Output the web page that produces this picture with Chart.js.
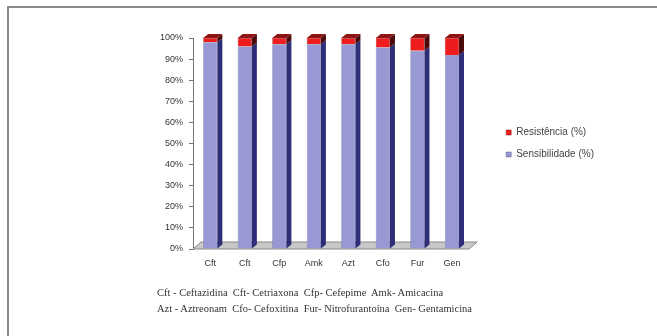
<!DOCTYPE html>
<html>
<head>
<meta charset="utf-8">
<script src="https://cdn.jsdelivr.net/npm/chart.js@4/dist/chart.umd.min.js"></script>
<style>
  body { margin: 0; background: #fff; }
  #wrap { position: relative; width: 657px; height: 336px; overflow: hidden; }
  #frame { position: absolute; left: 7px; top: 6px; right: -10px; bottom: -10px;
           border-top: 2px solid #8a8a8a; border-left: 2px solid #8a8a8a; }
  #grafico { position: absolute; left: 0; top: 0; }
  #nota { position: absolute; left: 157px; top: 285px; font: 10.5px "Liberation Serif", serif;
          color: #333; line-height: 16px; white-space: pre; }
</style>
</head>
<body>
<div id="wrap">
  <div id="frame"></div>
  <canvas id="grafico" width="657" height="336"></canvas>
  <div id="nota">Cft - Ceftazidina  Cft- Cetriaxona  Cfp- Cefepime  Amk- Amicacina
Azt - Aztreonam  Cfo- Cefoxitina  Fur- Nitrofurantoína  Gen- Gentamicina</div>
</div>
<script>
var antibioticos = ["Cft", "Cft", "Cfp", "Amk", "Azt", "Cfo", "Fur", "Gen"];
var sensibilidade = [98, 96, 97, 97, 97, 95.5, 94, 92];
var resistencia = [2, 4, 3, 3, 3, 4.5, 6, 8];
var ticksY = [0, 10, 20, 30, 40, 50, 60, 70, 80, 90, 100];

// faces laterais / topo para o efeito 3D
var lados = ['#2e2e78', '#4a0808'];
var topos = ['#6a6ab0', '#8e1515'];

var efeito3d = {
    id: 'efeito3d',
    beforeDatasetsDraw: function(chart) {
        var c = chart.ctx, a = chart.chartArea;
        c.save();
        c.fillStyle = '#c8c8c8';
        c.strokeStyle = '#8a8a8a';
        c.lineWidth = 1;
        c.beginPath();
        c.moveTo(a.left, a.bottom);
        c.lineTo(a.left + 8, a.bottom - 7);
        c.lineTo(a.right + 8, a.bottom - 7);
        c.lineTo(a.right, a.bottom);
        c.closePath();
        c.fill();
        c.stroke();
        c.restore();
    },
    afterDatasetsDraw: function(chart) {
        var c = chart.ctx, dx = 5, dy = 4;
        c.save();
        chart.data.datasets.forEach(function(ds, i) {
            var meta = chart.getDatasetMeta(i);
            meta.data.forEach(function(b) {
                var p = b.getProps(['x', 'y', 'base', 'width'], true);
                var l = p.x - p.width / 2, r = p.x + p.width / 2;
                c.fillStyle = lados[i];
                c.beginPath();
                c.moveTo(r, p.y);
                c.lineTo(r + dx, p.y - dy);
                c.lineTo(r + dx, p.base - dy);
                c.lineTo(r, p.base);
                c.closePath();
                c.fill();
                if (i === chart.data.datasets.length - 1) {
                    c.fillStyle = topos[i];
                    c.beginPath();
                    c.moveTo(l, p.y);
                    c.lineTo(l + dx, p.y - dy);
                    c.lineTo(r + dx, p.y - dy);
                    c.lineTo(r, p.y);
                    c.closePath();
                    c.fill();
                }
            });
        });
        c.restore();
    }
};

var ctx = document.getElementById("grafico");
var grafico = new Chart(ctx, {
    type: 'bar',
    data: {
        labels: antibioticos,
        datasets: [
            {
                label: "Sensibilidade (%)",
                data: sensibilidade,
                backgroundColor: '#9898d4',
                borderColor: '#55558a',
                borderWidth: 0.5,
                barPercentage: 0.41,
                categoryPercentage: 1
            },
            {
                label: "Resistência (%)",
                data: resistencia,
                backgroundColor: '#ee1c1c',
                borderColor: '#7a1010',
                borderWidth: 0.5,
                barPercentage: 0.41,
                categoryPercentage: 1
            }
        ]
    },
    options: {
        responsive: false,
        animation: false,
        devicePixelRatio: 1,
        layout: { padding: { left: 150, top: 38, right: 53, bottom: 57 } },
        plugins: {
            legend: {
                position: 'right',
                fullSize: false,
                reverse: true,
                maxWidth: 200,
                labels: {
                    boxWidth: 5,
                    boxHeight: 5,
                    padding: 12,
                    color: '#444',
                    font: { family: 'Arial, "Liberation Sans"', size: 10 }
                }
            },
            tooltip: { enabled: false }
        },
        scales: {
            x: {
                stacked: true,
                grid: { display: false, drawTicks: false },
                border: { display: false },
                ticks: { color: '#333', padding: 9, font: { family: 'Arial, "Liberation Sans"', size: 9 } },
                afterFit: function(s) { s.height = 30; }
            },
            y: {
                stacked: true,
                min: 0,
                max: 100,
                afterBuildTicks: function(s) { s.ticks = ticksY.map(function(v) { return { value: v }; }); },
                grid: { drawOnChartArea: false, tickLength: 4, color: '#777' },
                border: { color: '#777', width: 1 },
                ticks: {
                    color: '#333',
                    padding: 6,
                    font: { family: 'Arial, "Liberation Sans"', size: 9 },
                    callback: function(v) { return v + '%'; }
                },
                afterFit: function(s) { s.width = 43; }
            },
            yPad: {
                axis: 'y',
                position: 'right',
                grid: { display: false },
                border: { display: false },
                ticks: { display: false },
                afterFit: function(s) { s.width = 25; }
            }
        }
    },
    plugins: [efeito3d]
});
</script>
</body>
</html>
